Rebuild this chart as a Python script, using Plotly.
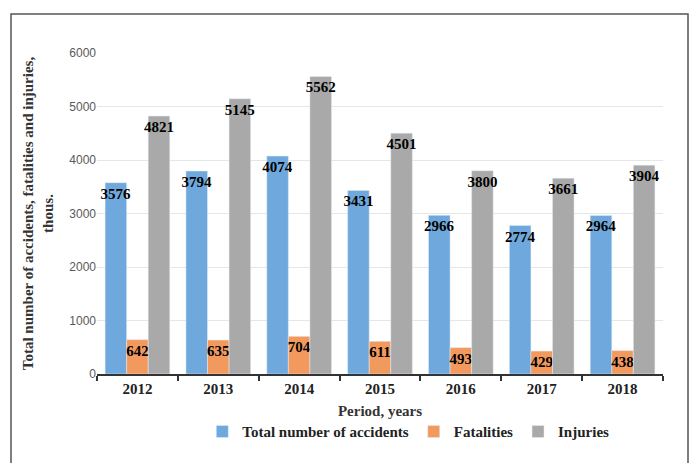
import plotly.graph_objects as go

years = ["2012", "2013", "2014", "2015", "2016", "2017", "2018"]
accidents = [3576, 3794, 4074, 3431, 2966, 2774, 2964]
fatalities = [642, 635, 704, 611, 493, 429, 438]
injuries = [4821, 5145, 5562, 4501, 3800, 3661, 3904]

serif = "Liberation Serif"
label_font = dict(family=serif, size=15, color="black")

fig = go.Figure()
for name, vals, col in [
    ("Total number of accidents", accidents, "#6FA8DC"),
    ("Fatalities", fatalities, "#F29A5E"),
    ("Injuries", injuries, "#A9A9A9"),
]:
    fig.add_trace(go.Bar(
        x=years, y=vals, name=name, marker_color=col,
        text=[str(v) for v in vals], textposition="inside",
        insidetextanchor="end", textangle=0, constraintext="none",
        insidetextfont=label_font, texttemplate="<b>%{text}</b>",
        cliponaxis=False,
    ))

fig.update_layout(
    width=695, height=463,
    margin=dict(l=97, r=32, t=53, b=89),
    paper_bgcolor="white", plot_bgcolor="white",
    barmode="group", bargap=0.2, bargroupgap=0,
    font=dict(family=serif, size=14, color="black"),
    xaxis=dict(
        type="category", tickson="boundaries", ticks="outside", ticklen=5,
        tickcolor="#333333", tickwidth=1.5,
        showline=True, linecolor="#333333", linewidth=2,
        tickfont=dict(family=serif, size=15, color="#222222", weight="bold"),
        title=dict(text="<b>Period, years</b>", standoff=9,
                   font=dict(family=serif, size=15, color="#333333")),
    ),
    yaxis=dict(
        range=[0, 6000], dtick=1000, showgrid=True, gridcolor="#E6E6E6",
        zeroline=False, showline=False,
        tickfont=dict(family="Liberation Sans", size=12, color="#595959"),
        title=dict(text="<b>Total number of accidents, fatalities and injuries,<br>thous.</b>",
                   standoff=12,
                   font=dict(family=serif, size=15, color="#333333")),
    ),
    legend=dict(orientation="h", x=0.55, xanchor="center", y=-0.18, yanchor="middle",
                font=dict(family=serif, size=15, color="#222222", weight="bold"),
                itemclick=False),
    shapes=[dict(type="rect", xref="paper", yref="paper",
                 x0=(11 - 97) / 566, x1=(688 - 97) / 566,
                 y0=(374 - 480) / 321, y1=(374 - 14) / 321,
                 line=dict(color="#555555", width=1.5), fillcolor="rgba(0,0,0,0)",
                 layer="below")],
)

fig.write_html("out.html")
